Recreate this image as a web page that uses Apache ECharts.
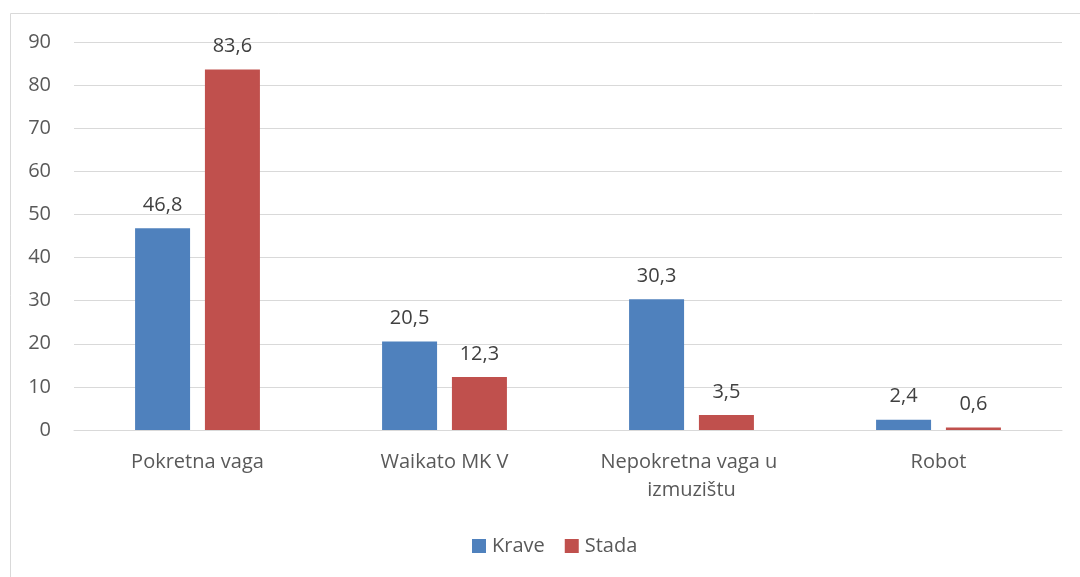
<!DOCTYPE html>
<html><head><meta charset="utf-8">
<script src="https://cdn.jsdelivr.net/npm/echarts@6/dist/echarts.min.js"></script>
<style>html,body{margin:0;padding:0;background:#fff}#c{width:1080px;height:577px}</style>
</head><body><div id="c"></div>
<script>
const categories = ['Pokretna vaga', 'Waikato MK V', 'Nepokretna vaga u izmuzištu', 'Robot'];
const krave = [46.8, 20.5, 30.3, 2.4];
const stada = [83.6, 12.3, 3.5, 0.6];
const yTicks = [0, 10, 20, 30, 40, 50, 60, 70, 80, 90];

const font = '"Open Sans", "Noto Sans", sans-serif';
const fmt = v => String(v.value !== undefined ? v.value : v).replace('.', ',');
const chart = echarts.init(document.getElementById('c'));
chart.setOption({
  animation: false,
  textStyle: {fontFamily: font},
  graphic: [{type: 'rect', shape: {x: 10.5, y: 13.5, width: 1100, height: 600}, style: {fill: 'none', stroke: '#d9d9d9', lineWidth: 1}, silent: true}],
  grid: {left: 74, right: 18, top: 42, bottom: 147},
  legend: {
    bottom: 16, left: 467, itemWidth: 14, itemHeight: 14, itemGap: 20,
    icon: 'rect',
    textStyle: {fontSize: 20, color: '#595959', fontFamily: font, padding: [0, 0, 0, 1]},
    data: ['Krave', 'Stada']
  },
  xAxis: {
    type: 'category', data: categories,
    axisLine: {lineStyle: {color: '#d9d9d9', width: 1}},
    axisTick: {show: false},
    axisLabel: {fontSize: 20, color: '#595959', margin: 18, lineHeight: 28, width: 200, overflow: 'break', interval: 0}
  },
  yAxis: {
    type: 'value', min: yTicks[0], max: yTicks[yTicks.length - 1], interval: 10,
    axisLine: {show: false}, axisTick: {show: false},
    axisLabel: {fontSize: 20, color: '#595959', margin: 23},
    splitLine: {lineStyle: {color: '#d9d9d9', width: 1}}
  },
  series: [
    {name: 'Krave', type: 'bar', data: krave, barWidth: 55, barGap: '27%',
     itemStyle: {color: '#4f81bd'},
     label: {show: true, position: 'top', distance: 13, fontSize: 20, color: '#404040', formatter: fmt}},
    {name: 'Stada', type: 'bar', data: stada, barWidth: 55,
     itemStyle: {color: '#c0504d'},
     label: {show: true, position: 'top', distance: 13, fontSize: 20, color: '#404040', formatter: fmt}}
  ]
});
</script></body></html>
